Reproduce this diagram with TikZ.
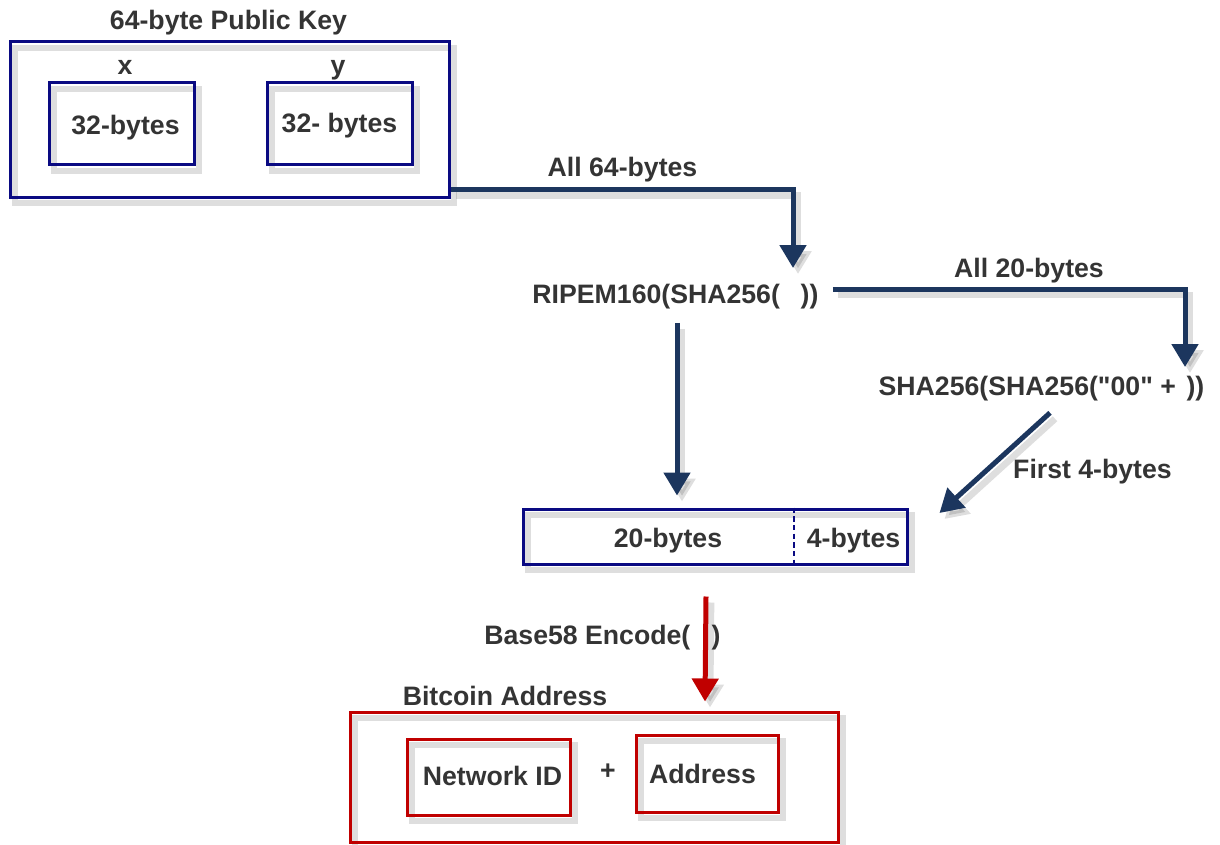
\documentclass[tikz,border=0pt]{standalone}
\usepackage{fontspec}
\setmainfont{Liberation Sans}
\newfontfamily\qfont{Liberation Sans}[Ligatures=TeXOff]
\usetikzlibrary{arrows.meta,calc}
\newlength\pxu \setlength\pxu{0.75pt}
\definecolor{navy}{RGB}{10,10,130}
\definecolor{arrcol}{RGB}{28,54,94}
\definecolor{redc}{RGB}{192,0,0}
\definecolor{txt}{RGB}{52,52,52}
\tikzset{
  lbl/.style={inner sep=0pt, anchor=base, text=txt, font=\bfseries\fontsize{20}{24}\selectfont},
  shad/.style={preaction={draw=black, opacity=0.13, line width=5pt,
      transform canvas={shift={(3.75pt,-4.5pt)}}}},
  bluebox/.style={draw=navy, line width=2.25pt, shad, inner sep=0pt},
  redbox/.style={draw=redc, line width=2.25pt, shad, inner sep=0pt},
  arr/.style={draw=arrcol, line width=3.75pt, -{Triangle[width=19.5pt,length=17.25pt]}, shad},
  redarr/.style={arr, draw=redc},
}
\begin{document}
\begin{tikzpicture}[x=0.75pt,y=-0.75pt]
\useasboundingbox (0,0) rectangle (1220,845);
% public key
\node[lbl] (pkt) at (228.5,30) {64-byte Public Key};
\node[bluebox, minimum width=439\pxu, minimum height=155\pxu] (pk) at (229.5,119.5) {};
\node[lbl] (xl) at (125,75) {x};
\node[lbl] (yl) at (338,75) {y};
\node[bluebox, minimum width=145\pxu, minimum height=82\pxu] (b1) at (121.5,124) {};
\node[bluebox, minimum width=145\pxu, minimum height=82\pxu] (b2) at (339.5,124) {};
\node[lbl] (b1t) at (125.5,135) {32-bytes};
\node[lbl] (b2t) at (339.5,133) {32- bytes};
% hash stages
\node[lbl] (rip) at (675.5,303) {RIPEM160(SHA256(\hspace{0.78em}))};
\node[lbl] (sha) at (1041.5,395) {SHA256(SHA256({\qfont "00"} +\hspace{0.4em}))};
\node[lbl] (l64) at (622.5,176) {All 64-bytes};
\node[lbl] (l20) at (1029,277) {All 20-bytes};
\node[lbl] (lf4) at (1092.5,478) {First 4-bytes};
% bar
\node[bluebox, minimum width=384\pxu, minimum height=55\pxu] (bar) at (715,536.5) {};
\draw[navy, line width=1.5pt, dash pattern=on 4pt off 2.5pt] ($(bar.north)+(79,0)$) -- ($(bar.south)+(79,0)$);
\node[lbl] (t20) at (668,547) {20-bytes};
\node[lbl] (t4) at (853.5,547) {4-bytes};
% bitcoin address
\node[lbl] (b58) at (602.5,644) {Base58 Encode(\hspace{0.8em})};
\node[lbl] (btct) at (505,705) {Bitcoin Address};
\node[redbox, minimum width=488\pxu, minimum height=130\pxu] (btc) at (594,777) {};
\node[redbox, minimum width=163\pxu, minimum height=76\pxu] (nid) at (488.5,777) {};
\node[redbox, minimum width=142\pxu, minimum height=77\pxu] (adr) at (707,773.5) {};
\node[lbl] (nidt) at (492.5,785) {Network ID};
\node[lbl] (adrt) at (702.5,783) {Address};
\node[lbl, anchor=center] (plus) at (608,772) {+};
% connectors
\coordinate (c1) at (793,268);
\coordinate (c2) at (1185,367);
\draw[arr] ($(pk.south east)+(0,-9)$) -| (c1);
\draw[arr] ($(rip.east)+(14,-7)$) -| (c2);
\draw[arr] ($(rip.south)+(1.5,14)$) -- ($(bar.north)+(-38,-12)$);
\draw[arr] ($(sha.south)+(8.5,12)$) -- ($(bar.east)+(31,-23.5)$);
\draw[redarr] ($(bar.south)+(-9,31)$) -- ($(btc.north)+(111,-9)$);
\end{tikzpicture}
\end{document}
